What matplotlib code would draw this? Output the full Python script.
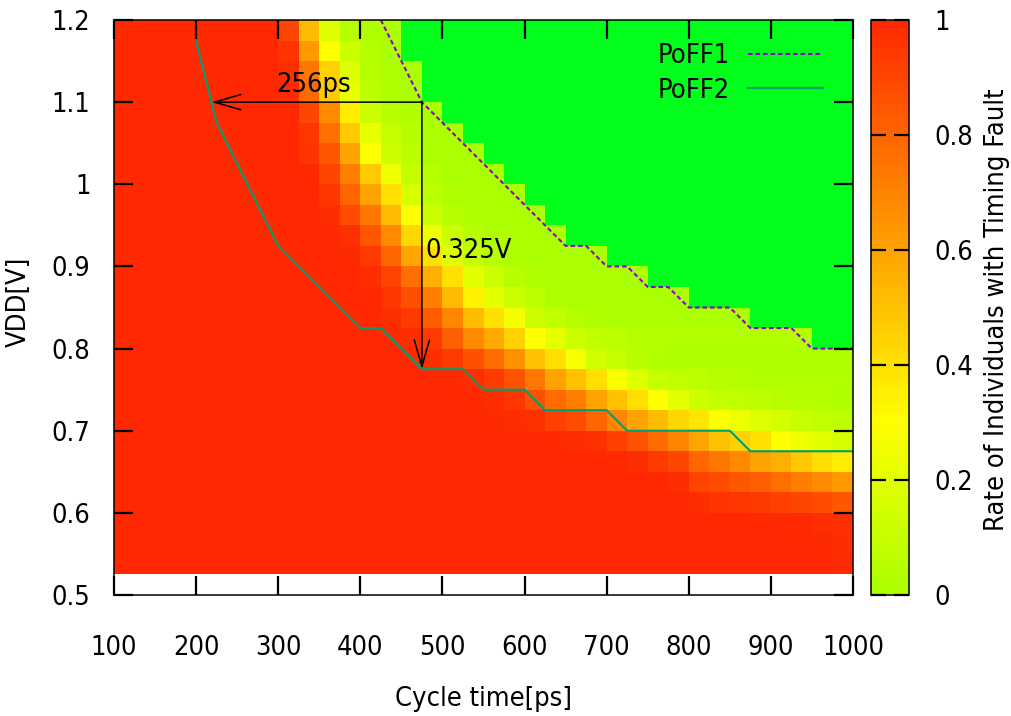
import os
import numpy as np
import matplotlib
matplotlib.use("Agg")
import matplotlib.pyplot as plt
from matplotlib.colors import LinearSegmentedColormap
from matplotlib import font_manager as fm

nan = float("nan")

# ---------------- data ----------------
cycle_time_edges = [100, 125, 150, 175, 200, 225, 250, 275, 300, 325, 350, 375,
                    400, 425, 450, 475, 500, 525, 550, 575, 600, 625, 650, 675,
                    700, 725, 750, 775, 800, 825, 850, 875, 900, 925, 950, 975, 1000]
vdd_edges = [0.525, 0.55, 0.575, 0.6, 0.625, 0.65, 0.675, 0.7, 0.725, 0.75,
             0.775, 0.8, 0.825, 0.85, 0.875, 0.9, 0.925, 0.95, 0.975, 1.0,
             1.025, 1.05, 1.075, 1.1, 1.125, 1.15, 1.175, 1.2]

# rate of individuals with timing fault, one row per VDD cell (bottom -> top);
# nan = region with no fault at all (drawn bright green)
rate_rows = [
    [1] * 35 + [0.99],
    [1] * 34 + [0.99, 0.98],
    [1] * 32 + [0.99, 0.99, 0.98, 0.97],
    [1] * 28 + [0.98, 0.96, 0.95, 0.94, 0.92, 0.90, 0.88, 0.85],
    [1] * 26 + [0.99, 0.98, 0.91, 0.88, 0.85, 0.82, 0.77, 0.72, 0.68, 0.63],
    [1] * 24 + [0.99, 0.98, 0.94, 0.90, 0.80, 0.74, 0.68, 0.60, 0.56, 0.48, 0.41, 0.36],
    [1] * 21 + [0.99, 0.98, 0.97, 0.92, 0.86, 0.78, 0.70, 0.59, 0.50, 0.45, 0.40,
                0.30, 0.24, 0.20, 0.15],
    [1] * 18 + [0.99, 0.98, 0.97, 0.92, 0.88, 0.80, 0.70, 0.60, 0.52, 0.43, 0.38,
                0.30, 0.24, 0.18, 0.15, 0.10, 0.08, 0.06],
    [1] * 17 + [0.99, 0.98, 0.95, 0.87, 0.78, 0.72, 0.60, 0.50, 0.41, 0.30, 0.20,
                0.12, 0.09, 0.08, 0.06, 0.05, 0.04, 0.04, 0.02],
    [1] * 16 + [0.99, 0.98, 0.94, 0.86, 0.74, 0.60, 0.50, 0.41, 0.28, 0.18, 0.10,
                0.08, 0.06, 0.05, 0.04, 0.03, 0.03, 0.03, 0.03, 0.03],
    [1] * 15 + [0.98, 0.94, 0.87, 0.78, 0.66, 0.50, 0.41, 0.27, 0.13, 0.09, 0.05, 0.03]
    + [0.02] * 9,
    [1] * 14 + [0.98, 0.94, 0.82, 0.68, 0.58, 0.45, 0.30, 0.20, 0.12, 0.08, 0.06, 0.04]
    + [0.03] * 8 + [nan] * 2,
    [1] * 13 + [0.98, 0.94, 0.83, 0.69, 0.52, 0.40, 0.26, 0.12, 0.08, 0.04, 0.02]
    + [0.01] * 7 + [nan] * 5,
    [1] * 13 + [0.95, 0.87, 0.72, 0.52, 0.34, 0.20, 0.12, 0.06, 0.02, 0.01]
    + [0] * 5 + [nan] * 8,
    [1] * 12 + [0.98, 0.91, 0.77, 0.56, 0.40, 0.20, 0.12, 0.05, 0.02]
    + [0] * 5 + [nan] * 10,
    [1] * 11 + [0.99, 0.94, 0.80, 0.59, 0.40, 0.18, 0.09, 0.04, 0.01]
    + [0] * 4 + [nan] * 12,
    [1] * 11 + [0.97, 0.85, 0.68, 0.43, 0.24, 0.12, 0.05, 0.02]
    + [0] * 3 + [nan] * 14,
    [1] * 10 + [0.98, 0.88, 0.74, 0.52, 0.30, 0.12, 0.05, 0.02]
    + [0] * 3 + [nan] * 15,
    [1] * 10 + [0.95, 0.80, 0.60, 0.40, 0.16, 0.06, 0.02]
    + [0] * 3 + [nan] * 16,
    [1] * 9 + [0.99, 0.91, 0.72, 0.47, 0.24, 0.09, 0.04]
    + [0] * 3 + [nan] * 17,
    [1] * 9 + [0.96, 0.85, 0.60, 0.30, 0.12, 0.06, 0.01]
    + [0] * 2 + [nan] * 18,
    [1] * 9 + [0.95, 0.77, 0.47, 0.22, 0.09, 0.04, 0.01]
    + [0] * 1 + [nan] * 19,
    [1] * 9 + [0.90, 0.68, 0.36, 0.12, 0.05, 0.02]
    + [0] * 1 + [nan] * 20,
    [1] * 8 + [0.99, 0.78, 0.47, 0.22, 0.06, 0.02]
    + [0] * 1 + [nan] * 21,
    [1] * 8 + [0.98, 0.74, 0.45, 0.18, 0.05, 0.01]
    + [0] * 1 + [nan] * 21,
    [1] * 8 + [0.96, 0.63, 0.30, 0.12, 0.04]
    + [0] * 1 + [nan] * 22,
    [1] * 8 + [0.90, 0.52, 0.18, 0.05, 0.02]
    + [0] * 1 + [nan] * 22,
]
assert all(len(r) == 36 for r in rate_rows)

poff1_cycle = [425, 450, 475, 500, 525, 550, 575, 600, 625, 650, 675, 700, 725,
               750, 775, 800, 825, 850, 875, 900, 925, 950, 975, 1000]
poff1_vdd = [1.2, 1.15, 1.1, 1.075, 1.05, 1.025, 1.0, 0.975, 0.95, 0.925, 0.925,
             0.9, 0.9, 0.875, 0.875, 0.85, 0.85, 0.85, 0.825, 0.825, 0.825,
             0.8, 0.8, 0.8]
poff2_cycle = [200, 225, 250, 275, 300, 325, 350, 375, 400, 425, 450, 475, 500,
               525, 550, 575, 600, 625, 650, 675, 700, 725, 750, 775, 800, 825,
               850, 875, 900, 925, 950, 975, 1000]
poff2_vdd = [1.175, 1.075, 1.025, 0.975, 0.925, 0.9, 0.875, 0.85, 0.825, 0.825,
             0.8, 0.775, 0.775, 0.775, 0.75, 0.75, 0.75, 0.725, 0.725, 0.725,
             0.725, 0.7, 0.7, 0.7, 0.7, 0.7, 0.7, 0.675, 0.675, 0.675, 0.675,
             0.675, 0.675]

x_ticks = [100, 200, 300, 400, 500, 600, 700, 800, 900, 1000]
y_ticks = [0.5, 0.6, 0.7, 0.8, 0.9, 1.0, 1.1, 1.2]
y_tick_labels = ["0.5", "0.6", "0.7", "0.8", "0.9", "1", "1.1", "1.2"]
cb_ticks = [0, 0.2, 0.4, 0.6, 0.8, 1.0]
cb_tick_labels = ["0", "0.2", "0.4", "0.6", "0.8", "1"]

corner_point = (475, 1.1)
cycle_arrow_end = (219, 1.1)
vdd_arrow_end = (475, 0.775)
cycle_gain_label = "256ps"
vdd_gain_label = "0.325V"

# ---------------- fonts ----------------
fam, stretch = "DejaVu Sans", "normal"
for f in fm.fontManager.ttflist:
    if os.path.basename(f.fname) == "DejaVuSansCondensed.ttf":
        fam, stretch = f.name, f.stretch
        break
plt.rcParams["font.family"] = [fam]
plt.rcParams["font.stretch"] = stretch
fs = 19.5 if stretch != "normal" else 17.6

# ---------------- figure ----------------
W, H = 1011, 716
fig = plt.figure(figsize=(W / 100, H / 100), dpi=100)
ax = fig.add_axes([114 / W, 1 - 595 / H, 739 / W, 575 / H])
cax = fig.add_axes([871 / W, 1 - 595 / H, 38 / W, 575 / H])

cmap = LinearSegmentedColormap.from_list(
    "fault", [(0.0, "#aaff00"), (0.3, "#ffff00"), (1.0, "#ff2800")])
cmap.set_bad("#00ff1a")

C = np.ma.masked_invalid(np.array(rate_rows, dtype=float))
mesh = ax.pcolormesh(cycle_time_edges, vdd_edges, C, cmap=cmap, vmin=0, vmax=1,
                     shading="flat", antialiased=False, edgecolors="none",
                     zorder=0.5)

ax.plot(poff1_cycle, poff1_vdd, color="#9400d3", lw=1.5, dashes=(2.2, 1.4),
        label="PoFF1", zorder=3)
ax.plot(poff2_cycle, poff2_vdd, color="#009e73", lw=1.5, label="PoFF2", zorder=3)

arrow_kw = dict(arrowstyle="->,head_length=1.9,head_width=0.55", color="black",
                lw=1.1, shrinkA=0, shrinkB=0, mutation_scale=10)
ax.annotate("", xy=cycle_arrow_end, xytext=corner_point, arrowprops=arrow_kw, zorder=4)
ax.annotate("", xy=vdd_arrow_end, xytext=corner_point, arrowprops=arrow_kw, zorder=4)
ax.text(298, 1.1127, cycle_gain_label, fontsize=fs, ha="left", va="baseline", zorder=5)
ax.text(479, 0.9103, vdd_gain_label, fontsize=fs, ha="left", va="baseline", zorder=5)

ax.set_xlim(100, 1000)
ax.set_ylim(0.5, 1.2)
ax.set_xticks(x_ticks)
ax.set_xticklabels([str(t) for t in x_ticks])
ax.set_yticks(y_ticks)
ax.set_yticklabels(y_tick_labels)
ax.tick_params(which="major", direction="in", length=14, width=1.6, top=True,
               right=True, bottom=True, left=True, labelsize=fs,
               color="black", labelcolor="black")
ax.tick_params(axis="x", pad=28.5)
ax.tick_params(axis="y", pad=17)
ax.xaxis.set_zorder(7)
ax.yaxis.set_zorder(7)
for s in ax.spines.values():
    s.set_linewidth(1.1)
    s.set_zorder(8)

leg = ax.legend(loc="upper right", bbox_to_anchor=(0.959, 0.960), frameon=False,
                markerfirst=False, fontsize=fs, handlelength=2.77,
                handletextpad=0.67, labelspacing=0.33, borderpad=0,
                borderaxespad=0)

cb = fig.colorbar(mesh, cax=cax, ticks=cb_ticks)
cb.ax.set_yticklabels(cb_tick_labels)
cax.tick_params(which="major", direction="in", length=11, width=1.6, left=True,
                right=True, labelsize=fs, pad=18, color="black")
cax.tick_params(which="minor", length=0)
cax.yaxis.set_zorder(7)
cb.outline.set_linewidth(1.1)

fig.text(483.5 / W, 1 - 699 / H, "Cycle time[ps]", ha="center", va="center", fontsize=fs)
fig.text(19 / W, 1 - 302 / H, "VDD[V]", rotation=90, ha="center", va="center", fontsize=fs)
fig.text(997.5 / W, 1 - 310 / H, "Rate of Individuals with Timing Fault",
         rotation=90, ha="center", va="center", fontsize=fs)

fig.savefig("out.png", dpi=100)
